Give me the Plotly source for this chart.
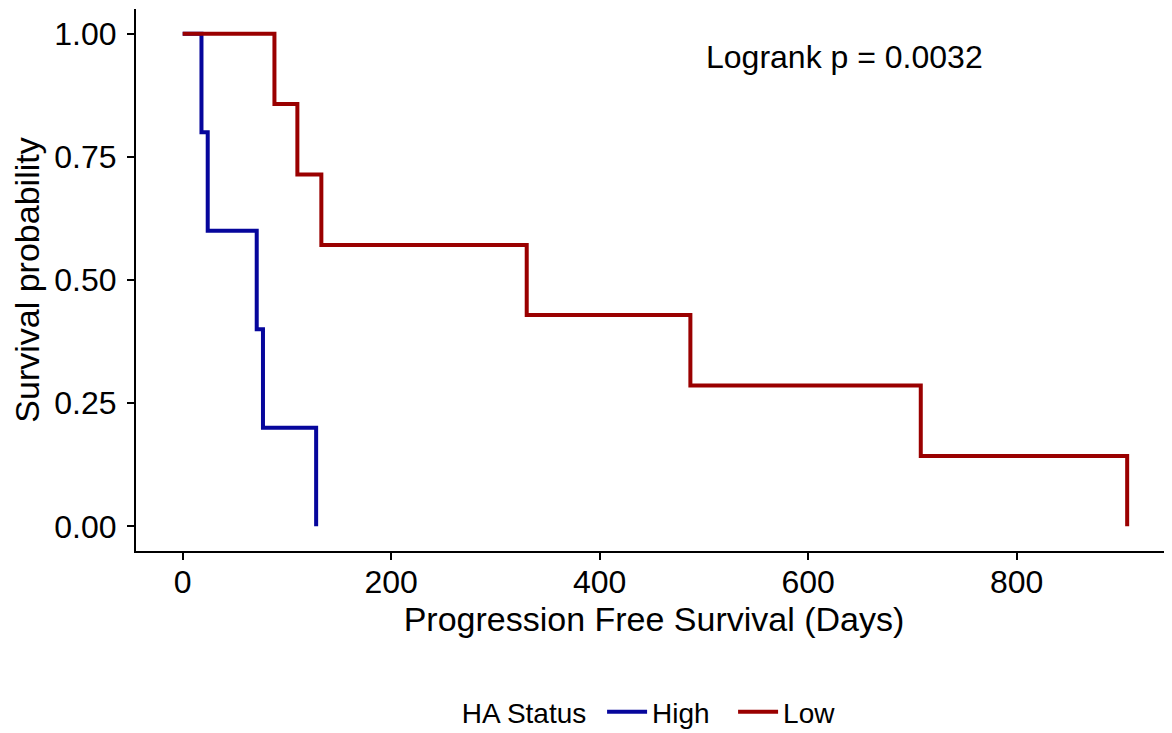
import plotly.graph_objects as go

# Kaplan-Meier step data
high_times = [0, 18, 24, 71, 77, 128]
high_surv = [1.0, 0.8, 0.6, 0.4, 0.2, 0.0]
low_times = [0, 88, 110, 133, 330, 487, 708, 906]
low_surv = [1.0, 0.857, 0.714, 0.571, 0.429, 0.286, 0.143, 0.0]

x_ticks = [0, 200, 400, 600, 800]
y_ticks = [0.0, 0.25, 0.5, 0.75, 1.0]
y_tick_labels = ["0.00", "0.25", "0.50", "0.75", "1.00"]

FONT = "Liberation Sans, Arial, Helvetica, sans-serif"
BLUE = "#06069C"
RED = "#9A0000"

fig = go.Figure()
fig.add_trace(go.Scatter(x=high_times, y=high_surv, mode="lines", name="High",
                         line=dict(shape="hv", color=BLUE, width=4)))
fig.add_trace(go.Scatter(x=low_times, y=low_surv, mode="lines", name="Low",
                         line=dict(shape="hv", color=RED, width=4)))

fig.add_annotation(x=500, y=0.952, xref="x", yref="y", text="Logrank p = 0.0032",
                   showarrow=False, xanchor="left", yanchor="middle",
                   font=dict(family=FONT, size=32, color="black"))

# page body has an 8px margin, so the figure is 8px smaller than the window
fig.update_layout(
    width=1164, height=725,
    margin=dict(l=128, r=0, t=1, b=182, autoexpand=False),
    paper_bgcolor="white", plot_bgcolor="white",
    font=dict(family=FONT, color="black"),
    showlegend=True,
    legend=dict(orientation="h", x=0.508, xanchor="center", y=-0.297, yanchor="middle",
                title=dict(text="HA Status ", font=dict(size=28, family=FONT)),
                font=dict(size=28, family=FONT), itemwidth=40, tracegroupgap=0,
                entrywidth=76),
    xaxis=dict(range=[-44.8, 949], tickvals=x_ticks, ticktext=[str(v) for v in x_ticks],
               automargin=False,
               showgrid=False, zeroline=False, showline=True, linecolor="black", linewidth=2,
               ticks="outside", ticklen=7, tickwidth=2, tickcolor="black",
               ticklabelstandoff=-5,
               tickfont=dict(size=32, family=FONT, color="black"),
               title=dict(text="Progression Free Survival (Days)", standoff=0,
                          font=dict(size=34, family=FONT, color="black"))),
    yaxis=dict(range=[-0.05, 1.05], tickvals=y_ticks, ticktext=y_tick_labels,
               automargin=False,
               showgrid=False, zeroline=False, showline=True, linecolor="black", linewidth=2,
               ticks="outside", ticklen=7, tickwidth=2, tickcolor="black",
               ticklabelstandoff=4,
               tickfont=dict(size=32, family=FONT, color="black"),
               title=dict(text="Survival probability", standoff=6,
                          font=dict(size=34, family=FONT, color="black"))),
)

fig.write_html("out.html")
